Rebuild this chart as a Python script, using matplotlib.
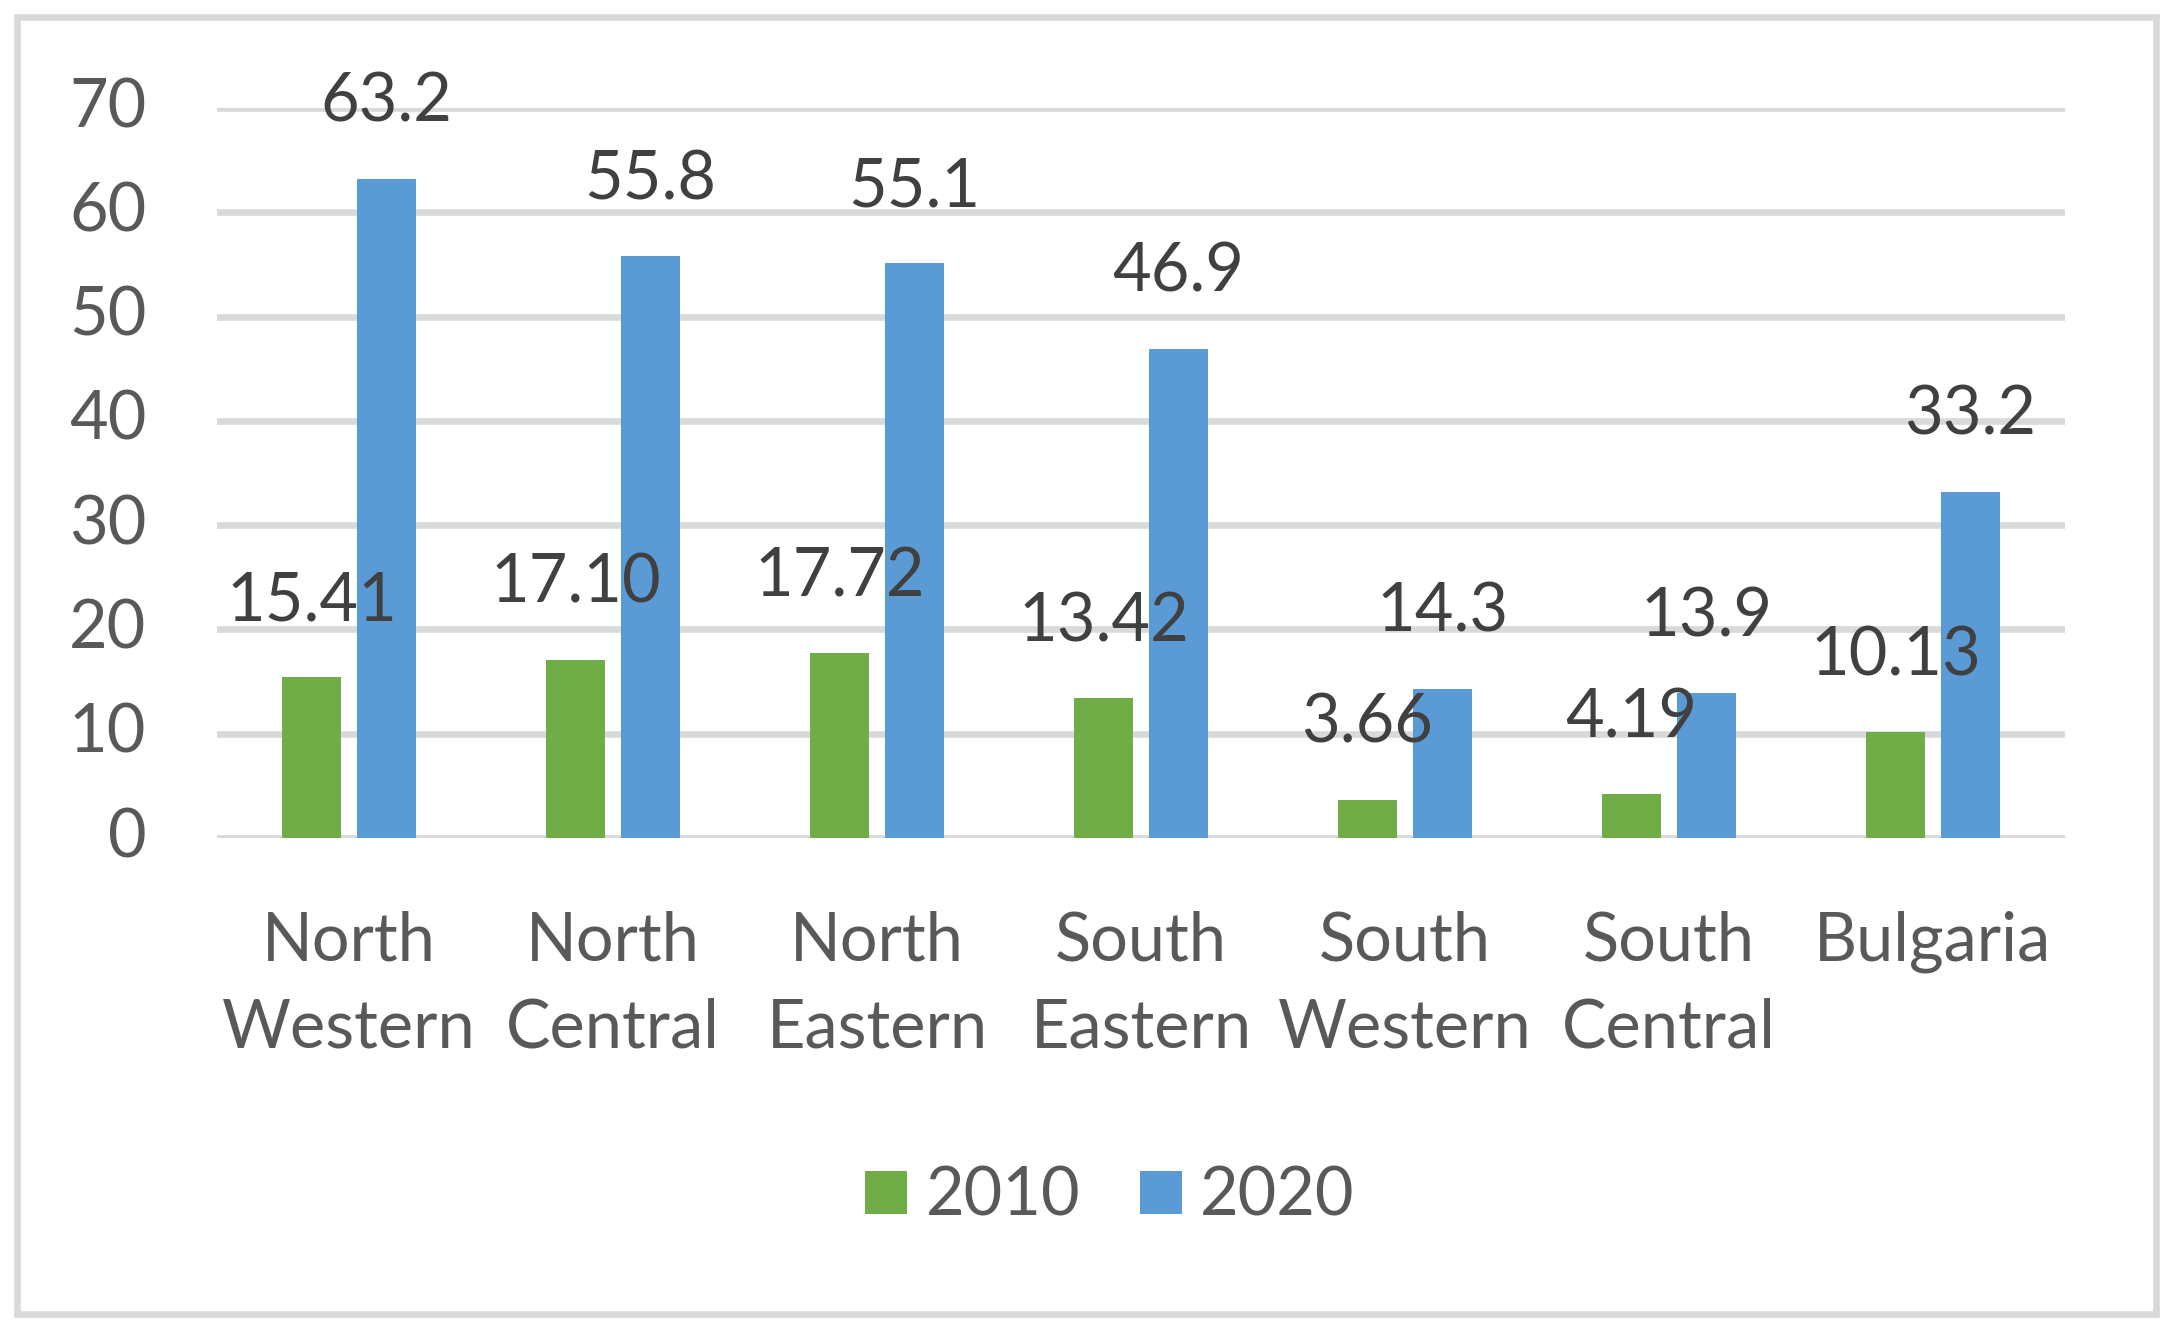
import matplotlib
matplotlib.use("Agg")
import matplotlib.pyplot as plt
from matplotlib.patches import Rectangle
import numpy as np

categories = ["North\nWestern", "North\nCentral", "North\nEastern", "South\nEastern",
              "South\nWestern", "South\nCentral", "Bulgaria"]
values_2010 = [15.41, 17.10, 17.72, 13.42, 3.66, 4.19, 10.13]
values_2020 = [63.2, 55.8, 55.1, 46.9, 14.3, 13.9, 33.2]
series_names = ["2010", "2020"]
yticks = [0, 10, 20, 30, 40, 50, 60, 70]

plt.rcParams['font.family'] = ['Lato', 'DejaVu Sans']
FS = 48
W, H = 2173, 1331
fig = plt.figure(figsize=(W / 100, H / 100), dpi=100)
ax = fig.add_axes([217 / W, 1 - 838 / H, (2065 - 217) / W, (838 - 108) / H])

x = np.arange(len(categories))
bw = 0.227
off = 0.142
b1 = ax.bar(x - off, values_2010, bw, color="#70AD47", zorder=2, label=series_names[0])
b2 = ax.bar(x + off, values_2020, bw, color="#5B9BD5", zorder=2, label=series_names[1])

for xi, v in zip(x - off, values_2010):
    ax.annotate(f"{v:.2f}", (xi, v), xytext=(0, 57), textcoords="offset pixels",
                ha="center", va="baseline", fontsize=FS, color="#404040", zorder=5,
                annotation_clip=False)
for xi, v in zip(x + off, values_2020):
    ax.annotate(f"{v:.1f}", (xi, v), xytext=(0, 57), textcoords="offset pixels",
                ha="center", va="baseline", fontsize=FS, color="#404040", zorder=5,
                annotation_clip=False)

ax.set_xlim(-0.5, len(categories) - 0.5)
ax.set_ylim(0, 70)
ax.set_yticks(yticks)
ax.set_yticklabels([str(t) for t in yticks])
ax.set_xticks(x)
ax.set_xticklabels(categories, linespacing=1.5)
ax.tick_params(axis="y", length=0, pad=51, labelsize=FS, labelcolor="#595959")
ax.tick_params(axis="x", length=0, pad=52, labelsize=FS, labelcolor="#595959")
for lab in ax.get_yticklabels():
    lab.set_verticalalignment("center")
ax.grid(axis="y", color="#D9D9D9", linewidth=4.8, zorder=0)
ax.set_axisbelow(True)
for s in ax.spines.values():
    s.set_visible(False)

leg = fig.legend(handles=[b1, b2], loc="center", bbox_to_anchor=(1110 / W, 1 - 1197 / H),
                 ncol=2, frameon=False, fontsize=FS, handlelength=0.63, handleheight=0.63,
                 handletextpad=0.27, columnspacing=0.9, labelcolor="#595959")

fig.patches.append(Rectangle((17 / W, 1 - 1314 / H), (2156 - 17) / W, (1314 - 17) / H,
                             transform=fig.transFigure, fill=False, edgecolor="#D9D9D9",
                             linewidth=4.8, zorder=10))

fig.savefig("out.png", dpi=100)
